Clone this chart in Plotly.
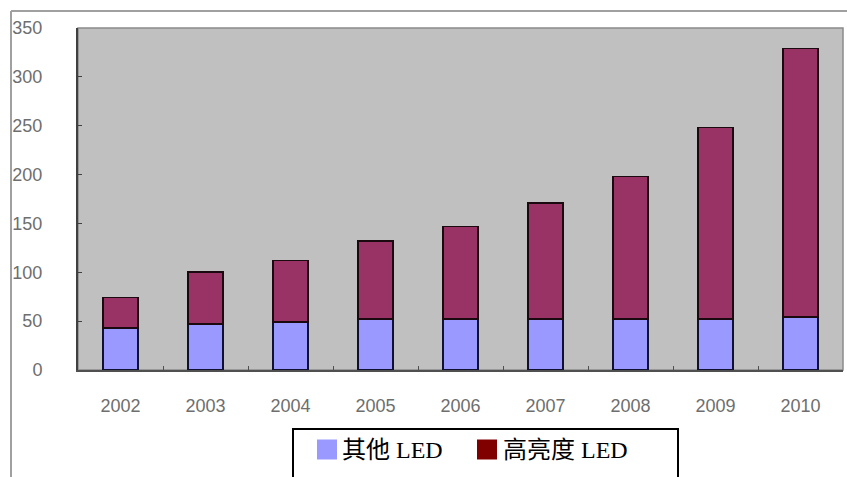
import plotly.graph_objects as go

years = ["2002", "2003", "2004", "2005", "2006", "2007", "2008", "2009", "2010"]
other_led = [43, 47, 49, 52, 52, 52, 52, 52, 54]
high_bright_led = [31, 53, 63, 80, 95, 119, 146, 196, 275]
y_ticks = [0, 50, 100, 150, 200, 250, 300, 350]
series_names = ["其他 LED", "高亮度 LED"]

W, H = 847, 477
L, R, T, B = 78, 4, 28, 107
pw, ph = W - L - R, H - T - B

def px_x(x):
    return (x - L) / pw

def px_y(y):
    return (H - B - y) / ph

fig = go.Figure()
fig.add_trace(go.Bar(x=years, y=other_led, name=series_names[0],
                     marker=dict(color="#9999ff", line=dict(color="#101030", width=1.6)),
                     showlegend=False))
fig.add_trace(go.Bar(x=years, y=high_bright_led, name=series_names[1],
                     marker=dict(color="#993366", line=dict(color="#1a0a10", width=1.6)),
                     showlegend=False))

shapes = [
    # outer frame (left and top)
    dict(type="line", xref="paper", yref="paper", x0=px_x(11), x1=px_x(847), y0=px_y(11), y1=px_y(11),
         line=dict(color="#a0a0a0", width=2)),
    dict(type="line", xref="paper", yref="paper", x0=px_x(11), x1=px_x(11), y0=px_y(11), y1=px_y(480),
         line=dict(color="#a0a0a0", width=2)),
    # plot area border (top/right)
    dict(type="rect", xref="paper", yref="paper", x0=0, x1=1, y0=0, y1=1,
         line=dict(color="#8a8a8a", width=1.5), layer="below"),
    # legend box
    dict(type="rect", xref="paper", yref="paper", x0=px_x(293), x1=px_x(678), y0=px_y(429), y1=px_y(490),
         line=dict(color="#000000", width=2), fillcolor="rgba(0,0,0,0)"),
    # legend swatches
    dict(type="rect", xref="paper", yref="paper", x0=px_x(317), x1=px_x(337), y0=px_y(439.5), y1=px_y(459.5),
         line=dict(width=0), fillcolor="#9999ff"),
    dict(type="rect", xref="paper", yref="paper", x0=px_x(477), x1=px_x(497), y0=px_y(439.5), y1=px_y(459.5),
         line=dict(width=0), fillcolor="#800000"),
]

legend_font = dict(family="Liberation Serif, Noto Sans CJK SC", size=24, color="#000000")
annotations = [
    dict(text=series_names[0], xref="paper", yref="paper", x=px_x(340), y=px_y(450),
         xanchor="left", yanchor="middle", showarrow=False, font=legend_font),
    dict(text=series_names[1], xref="paper", yref="paper", x=px_x(501), y=px_y(450),
         xanchor="left", yanchor="middle", showarrow=False, font=legend_font),
]

tick_font = dict(family="Liberation Sans, Arial, sans-serif", size=18, color="#6e6e6e")

fig.update_layout(
    width=W, height=H,
    margin=dict(l=L, r=R, t=T, b=B, pad=0),
    paper_bgcolor="#ffffff",
    plot_bgcolor="#c0c0c0",
    barmode="stack",
    bargap=0.59,
    showlegend=False,
    shapes=shapes,
    annotations=annotations,
    xaxis=dict(
        type="category", showgrid=False, zeroline=False,
        showline=True, linecolor="#505050", linewidth=2,
        ticks="inside", tickson="boundaries", ticklen=4, tickcolor="#505050", tickwidth=1,
        tickfont=tick_font, ticklabelstandoff=18,
    ),
    yaxis=dict(
        range=[0, 350], tickvals=y_ticks, showgrid=False, zeroline=False,
        showline=True, linecolor="#404040", linewidth=2,
        ticks="inside", ticklen=4, tickcolor="#404040", tickwidth=1,
        tickfont=tick_font, ticklabelstandoff=30,
    ),
)

fig.write_html("out.html")
